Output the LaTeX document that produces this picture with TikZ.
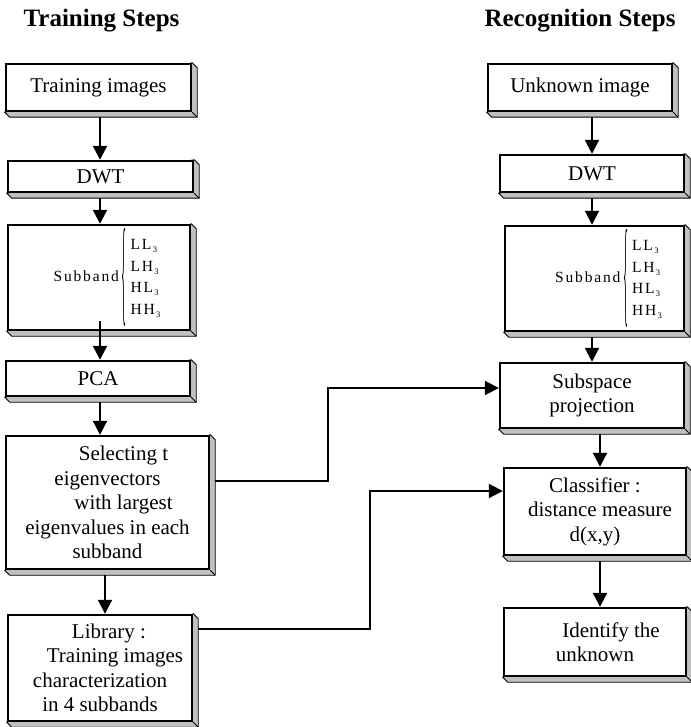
\documentclass[tikz,border=0pt]{standalone}
\usepackage{fontspec}
\setmainfont{Liberation Serif}
\newfontfamily\spacedfont[LetterSpace=12]{Liberation Serif}
\usepackage{xcolor}
\usetikzlibrary{arrows.meta}
\usetikzlibrary{backgrounds}
\definecolor{mygray}{RGB}{192,192,192}

\newcommand{\thr}{\raisebox{-3pt}{\fontsize{8.5}{8.5}\selectfont\,3}}
\newcommand{\subbandtext}{{\spacedfont\fontsize{15.5}{21.5}\selectfont
 Subband\,$\vcenter{\hbox{\resizebox{5pt}{82pt}{\{}}}$\hspace{4pt}%
 \begin{tabular}{@{}l@{}}LL\thr\\ LH\thr\\ HL\thr\\ HH\thr\end{tabular}}}

\tikzset{
 block/.style={draw, line width=2.4pt, fill=white, align=center, inner sep=0pt,
  font=\fontsize{21}{24.5}\selectfont},
 link/.style={-{Triangle[width=14pt,length=14pt]}, line width=2pt},
 title/.style={font=\fontsize{25}{28}\selectfont\bfseries}
}

\begin{document}
\begin{tikzpicture}[x=1pt, y=-1pt]
\useasboundingbox (0,0) rectangle (690,727);

 % titles
 \node[title] (ttrain) at (101.5,21) {Training Steps};
 \node[title] (trec) at (580,21) {Recognition Steps};

 % training steps
 \node[block, minimum width=185pt, minimum height=47pt] (ti) at (98.5,87.5) {Training images};
 \node[block, minimum width=185pt, minimum height=31pt] (dwtl) at (100.5,176.5) {DWT};
 \node[block, minimum width=182pt, minimum height=105pt] (subl) at (99,277.5) {\hspace*{16pt}\subbandtext};
 \node[block, minimum width=184pt, minimum height=35pt] (pca) at (98,378.5) {PCA};
 \node[block, minimum width=203pt, minimum height=133pt] (sel) at (107.5,502.5)
  {\hspace*{32pt}Selecting t\\eigenvectors\\\hspace*{32pt}with largest\\eigenvalues in each\\subband};
 \node[block, minimum width=184pt, minimum height=106pt] (lib) at (100,668)
  {\hspace*{18pt}Library :\\\hspace*{30pt}Training images\\characterization\\in 4 subbands};

 % recognition steps
 \node[block, minimum width=184pt, minimum height=47pt] (ui) at (580,87.5) {Unknown image};
 \node[block, minimum width=184pt, minimum height=37pt] (dwtr) at (592,173.5) {DWT};
 \node[block, minimum width=179pt, minimum height=105pt] (subr) at (594.5,278.5) {\hspace*{28pt}\subbandtext};
 \node[block, minimum width=184pt, minimum height=65pt] (sp) at (592,395.5) {Subspace\\projection};
 \node[block, minimum width=182pt, minimum height=87pt] (cls) at (595,511.5)
  {Classifier :\\\hspace*{10pt}distance measure\\d(x,y)};
 \node[block, minimum width=182pt, minimum height=68pt] (idf) at (595,642)
  {\hspace*{32pt}Identify the\\unknown};

 % slab edges
 \begin{scope}[on background layer]
 \foreach \n in {ti,dwtl,subl,pca,sel,lib,ui,dwtr,subr,sp,cls,idf}{
  \draw[fill=mygray, line width=0.9pt] (\n.north east) -- ([xshift=5pt,yshift=-5pt]\n.north east)
   -- ([xshift=5pt,yshift=-5pt]\n.south east) -- ([xshift=5pt,yshift=-5pt]\n.south west)
   -- (\n.south west) -- cycle;
  \draw[line width=0.9pt] (\n.south east) -- ([xshift=5pt,yshift=-5pt]\n.south east);
 }
 \end{scope}

 % arrows
 \draw[link] ([xshift=1.5pt,yshift=-5pt]ti.south) -- ([xshift=1.5pt]ti.south |- dwtl.north);
 \draw[link] ([xshift=-0.5pt,yshift=-5pt]dwtl.south) -- ([xshift=-0.5pt]dwtl.south |- subl.north);
 \draw[link] ([xshift=1pt,yshift=10pt]subl.south) -- ([xshift=1pt]subl.south |- pca.north);
 \draw[link] ([xshift=2pt,yshift=-5pt]pca.south) -- ([xshift=2pt]pca.south |- sel.north);
 \draw[link] ([xshift=-2.5pt,yshift=-5pt]sel.south) -- ([xshift=-2.5pt]sel.south |- lib.north);

 \draw[link] ([yshift=-5pt]dwtr.north |- ui.south) -- (dwtr.north);
 \draw[link] ([yshift=-5pt]dwtr.south) -- (dwtr.south |- subr.north);
 \draw[link] ([yshift=-5pt]sp.north |- subr.south) -- (sp.north);
 \draw[link] ([xshift=8pt,yshift=-5pt]sp.south) -- ([xshift=8pt]sp.south |- cls.north);
 \draw[link] ([xshift=5pt,yshift=-5pt]cls.south) -- ([xshift=5pt]cls.south |- idf.north);

 % links between the two columns
 \draw[link] ([xshift=5pt,yshift=21.5pt]sel.east) -- ++(113,0) |- ([yshift=7.5pt]sp.west);
 \draw[link] ([xshift=5pt,yshift=39pt]lib.east) -- ++(172,0) |- ([yshift=20.5pt]cls.west);
\end{tikzpicture}
\end{document}
